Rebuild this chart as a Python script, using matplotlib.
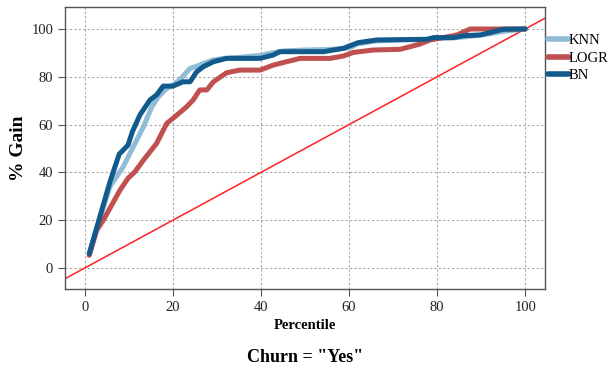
import matplotlib.pyplot as plt

# gain curves (percentile -> % gain)
knn_x = [1, 3, 5.7, 8.7, 11, 13.3, 15.2, 16.7, 18.5, 20, 21.6, 23.9, 26.1, 29, 32, 36, 40, 42, 45, 50,
         55, 60, 62, 66, 72, 78, 80, 84, 88, 92, 95, 100]
knn_y = [5.5, 18, 34, 42.3, 50.7, 59, 67.4, 71.6, 75, 76.5, 78.8, 83.5, 84.9, 87, 87.8, 88.3, 89, 89.8, 90.8, 91.2,
         91.4, 92, 93.8, 95, 95.4, 95.6, 96, 96.3, 97, 98, 99, 100]

logr_x = [1, 2.7, 4.2, 6.1, 8, 9.8, 11.4, 13.3, 14.8, 16.3, 18.6, 20, 23.1, 24.6, 26.1, 27.7, 29.2, 32.2, 35.2,
          39.8, 42.8, 45.8, 48.9, 55.7, 58.7, 61, 65.5, 71.6, 73.9, 76.1, 78.4, 81.4, 84.5, 87.5, 100]
logr_y = [5.3, 15.8, 20, 26.3, 32.6, 37.5, 40.3, 45.1, 48.6, 52.1, 60.5, 62.6, 67.4, 70.3, 74.5, 74.5, 77.9, 81.7, 82.8,
          82.8, 84.9, 86.3, 87.7, 87.7, 88.7, 90.2, 91.2, 91.5, 92.6, 93.7, 95.4, 96.4, 97.5, 100, 100]

bn_x = [1, 5.7, 7.8, 9.8, 10.8, 12.5, 14.8, 16.3, 17.8, 20, 22.3, 23.9, 25.4, 26.9, 29.2, 32.2, 39.8, 42.8, 44.3,
        54.2, 58.7, 62.1, 66.3, 77.7, 79.2, 83.7, 86, 89.8, 92, 95.1, 100]
bn_y = [6, 36, 47.6, 51.4, 57, 64, 70.3, 72.4, 76.1, 76.1, 77.9, 77.9, 82.1, 84.2, 86.3, 87.7, 87.7, 89.1, 90.5,
        90.5, 91.9, 94.3, 95.4, 95.7, 96.4, 96.4, 97.2, 97.5, 98.5, 99.9, 100]

plt.rcParams['font.family'] = ['Liberation Serif', 'DejaVu Serif']

fig = plt.figure(figsize=(6.08, 3.72), dpi=100)
ax = fig.add_axes([65 / 608, 1 - 289 / 372, 480 / 608, 282 / 372])

# baseline (random model)
ax.plot([-10, 110], [-10, 110], color='#ff2020', lw=1.1, zorder=2)

ax.plot(knn_x, knn_y, color='#8fbcd7', lw=3.6, label='KNN', zorder=3, solid_capstyle='round')
ax.plot(logr_x, logr_y, color='#c0504f', lw=3.6, label='LOGR', zorder=3, solid_capstyle='round')
ax.plot(bn_x, bn_y, color='#135a8c', lw=3.6, label='BN', zorder=4, solid_capstyle='round')

ax.set_xlim(-4.5, 104.5)
ax.set_ylim(-8.8, 109.2)
ax.set_xticks([0, 20, 40, 60, 80, 100])
ax.set_yticks([0, 20, 40, 60, 80, 100])
ax.grid(True, color='#a8a8a8', linestyle=(0, (2, 2)), lw=0.8)
ax.set_axisbelow(True)
for s in ax.spines.values():
    s.set_color('#555555')
    s.set_linewidth(1.0)
ax.tick_params(colors='#555555', labelcolor='#222222', labelsize=10.5, length=5, width=0.8)

ax.set_xlabel('Percentile', fontsize=10.5, fontweight='bold', labelpad=4)
ax.set_ylabel('% Gain', fontsize=14, fontweight='bold', labelpad=3)

leg = ax.legend(loc='upper left', bbox_to_anchor=(0.995, 0.925), frameon=False, fontsize=10.5,
                handlelength=1.4, handletextpad=0.0, labelspacing=0.3, borderaxespad=0)
for line in leg.get_lines():
    line.set_linewidth(4)

fig.text(305 / 608, 1 - 357 / 372, 'Churn = "Yes"', ha='center', va='center', fontsize=13, fontweight='bold')

plt.savefig('out.png', dpi=100)
